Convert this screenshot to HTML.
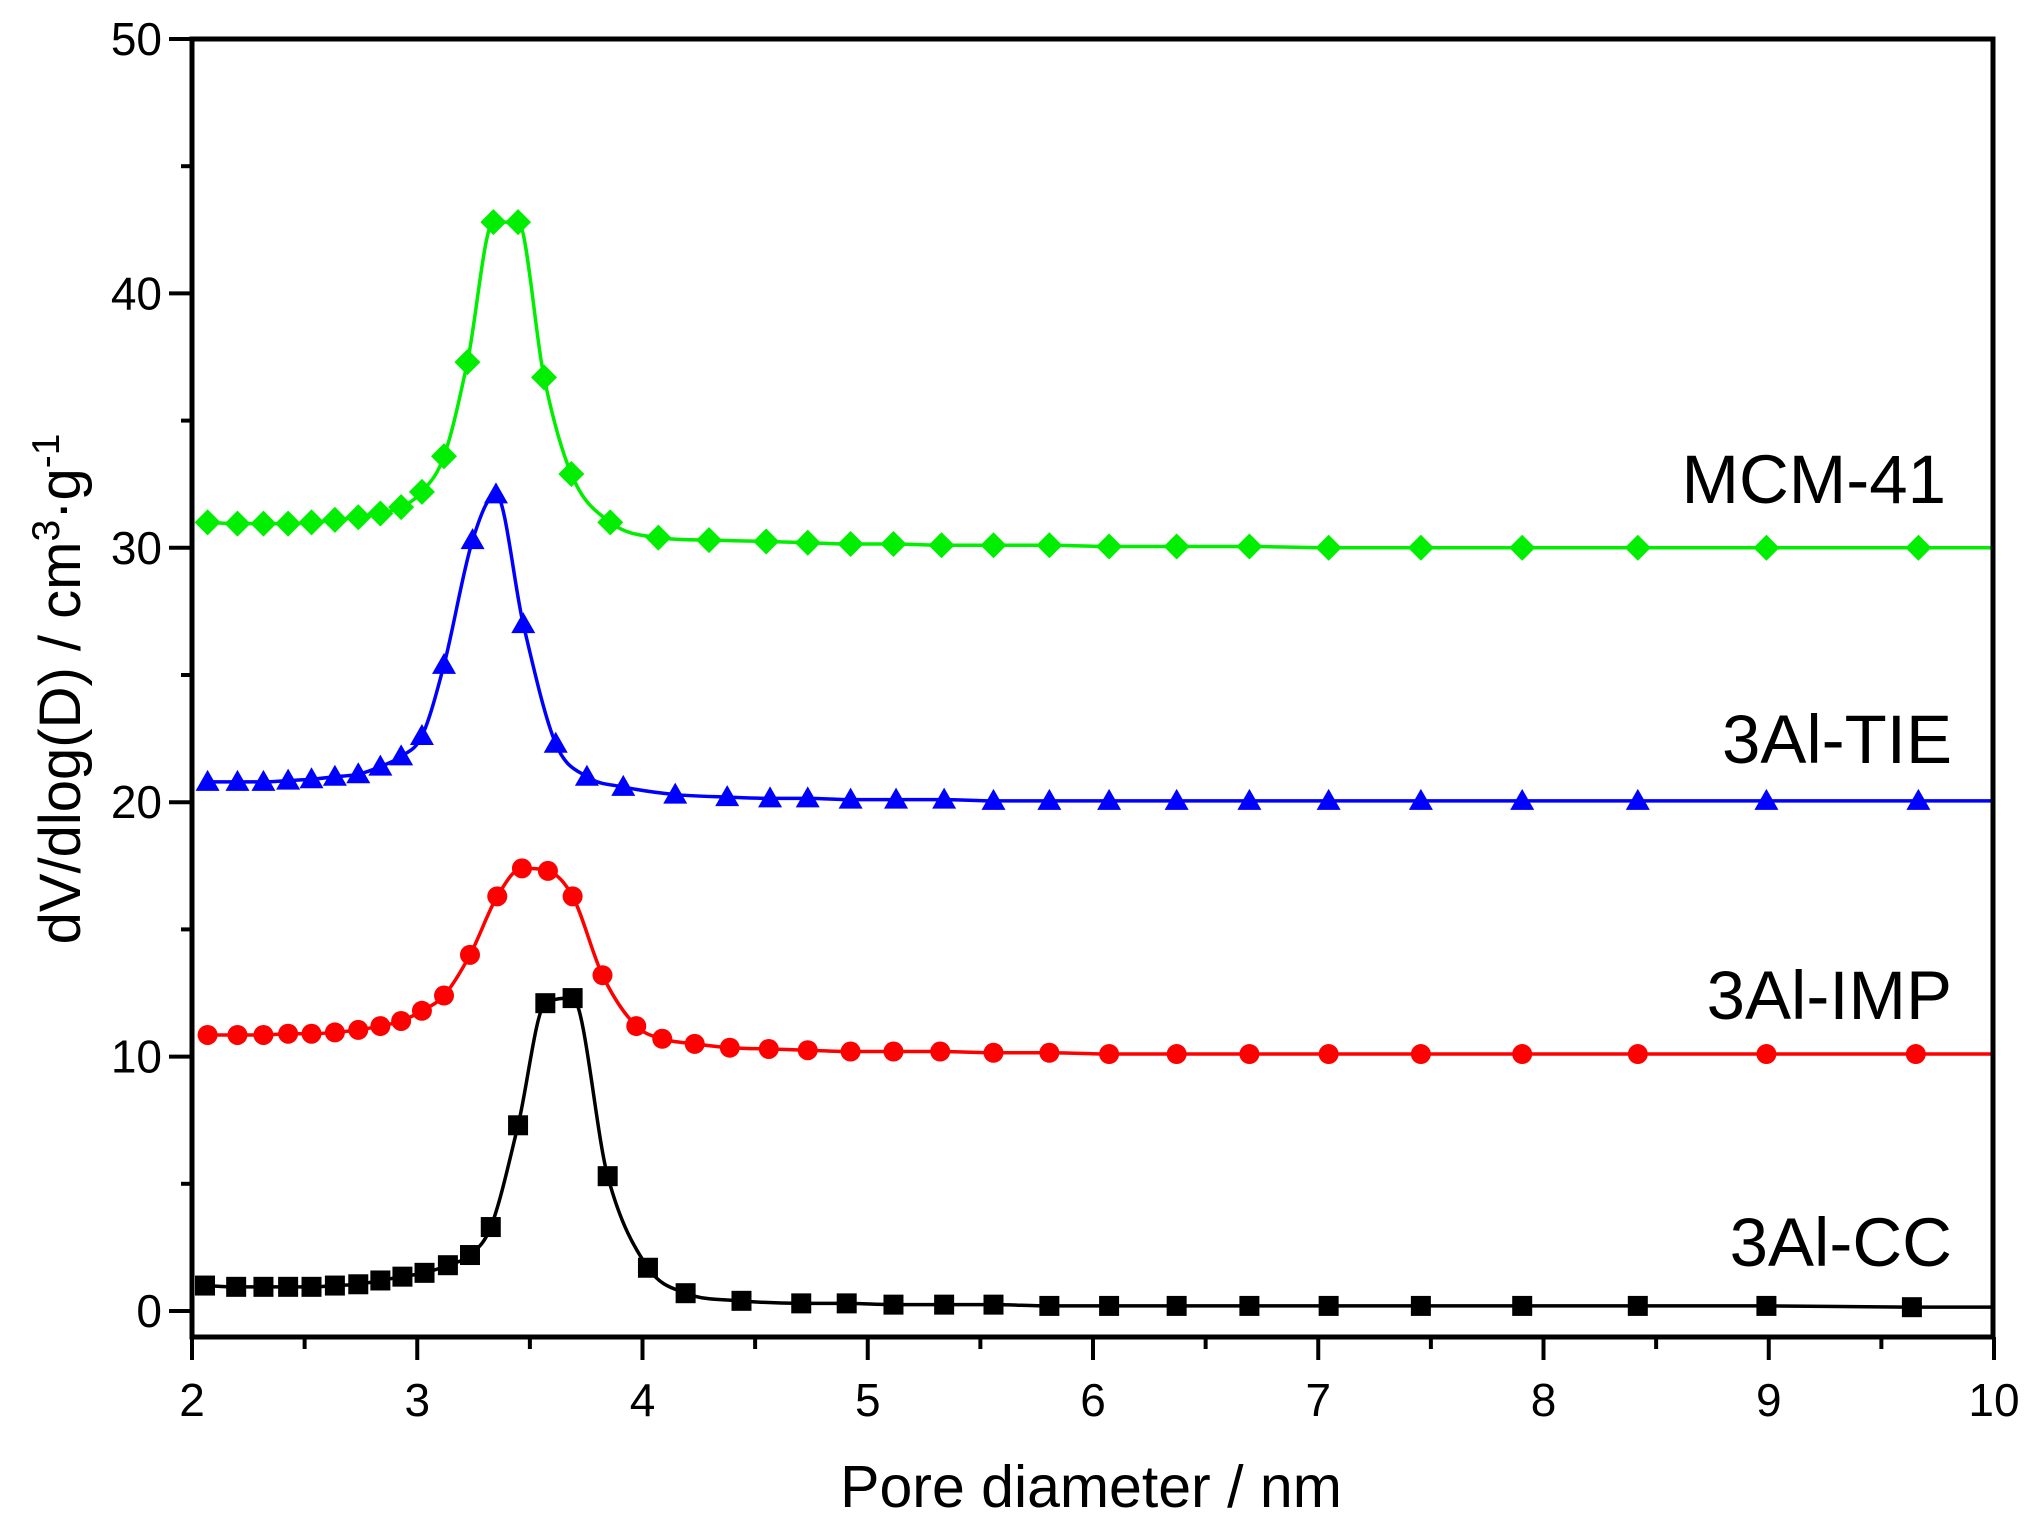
<!DOCTYPE html>
<html><head><meta charset="utf-8"><style>
html,body{margin:0;padding:0;background:#fff}
svg{display:block}
text{font-family:"Liberation Sans",Arial,sans-serif;fill:#000}
</style></head><body>
<svg id="s" width="2037" height="1535" viewBox="0 0 2037 1535" xmlns="http://www.w3.org/2000/svg">
<rect width="2037" height="1535" fill="#fff"/>
<g id="plot"></g>
<rect x="192" y="39" width="1801" height="1298" fill="none" stroke="#000" stroke-width="5"/>
<g id="ticks" stroke="#000" stroke-width="4"></g>
<g id="labels" font-size="46"></g>
<text x="1091" y="1507" font-size="59" text-anchor="middle">Pore diameter / nm</text>
<text transform="translate(80,689) rotate(-90)" font-size="58" text-anchor="middle">dV/dlog(D) / cm<tspan dy="-21" font-size="39">3</tspan><tspan dy="21">·g</tspan><tspan dy="-21" font-size="39">-1</tspan></text>
<text x="1946" y="503" font-size="69" text-anchor="end">MCM-41</text>
<text x="1952" y="763" font-size="69" text-anchor="end">3Al-TIE</text>
<text x="1952" y="1019" font-size="69" text-anchor="end">3Al-IMP</text>
<text x="1952" y="1266" font-size="69" text-anchor="end">3Al-CC</text>
</svg>
<script>
var NS="http://www.w3.org/2000/svg";
function X(v){return 192+(v-2)*225.25;}
function Y(v){return 1311-v*25.44;}
function dx(p){return 2+(p-148)/173.4;}
function el(t,a,par){var e=document.createElementNS(NS,t);for(var k in a)e.setAttribute(k,a[k]);par.appendChild(e);return e;}
var tk=document.getElementById('ticks'),lb=document.getElementById('labels');
for(var i=2;i<=10;i++){var x=X(i);el('line',{x1:x,y1:1337,x2:x,y2:1360},tk);
 var t=el('text',{x:x,y:1416,'text-anchor':'middle'},lb);t.textContent=i;
 if(i<10){el('line',{x1:X(i+0.5),y1:1337,x2:X(i+0.5),y2:1349},tk);}}
for(var v=0;v<=50;v+=10){var y=Y(v);el('line',{x1:169,y1:y,x2:192,y2:y},tk);
 var t=el('text',{x:162,y:y+16,'text-anchor':'end'},lb);t.textContent=v;
 if(v<50)el('line',{x1:181,y1:Y(v+5),x2:192,y2:Y(v+5)},tk);}
var S=[
{c:'#00ee00',m:'d',px:[160,183,203,222,240,258,276,293,309,325,342,360,380,399,419,440,470,507,546,590,622,655,688,725,765,808,854,906,962,1023,1094,1172,1261,1360,1477,1535],
 y:[31.0,30.95,30.95,30.95,31.0,31.1,31.2,31.35,31.6,32.2,33.6,37.3,42.8,42.8,36.7,32.9,31.0,30.4,30.3,30.25,30.2,30.15,30.15,30.1,30.1,30.1,30.05,30.05,30.05,30.0,30.0,30.0,30.0,30.0,30.0,30.0]},
{c:'#0000ff',m:'t',px:[160,183,203,222,240,258,276,293,309,325,342,364,382,403,428,452,480,520,560,593,622,655,690,727,765,808,854,906,962,1023,1094,1172,1261,1360,1477,1535],
 y:[20.8,20.8,20.8,20.85,20.9,21.0,21.1,21.4,21.8,22.6,25.4,30.3,32.1,27.0,22.3,21.0,20.6,20.3,20.2,20.15,20.15,20.1,20.1,20.1,20.05,20.05,20.05,20.05,20.05,20.05,20.05,20.05,20.05,20.05,20.05,20.05]},
{c:'#ff0000',m:'c',px:[160,183,203,222,240,258,276,293,309,325,342,362,383,402,422,441,464,490,510,535,562,592,622,655,688,724,765,808,854,906,962,1023,1094,1172,1261,1360,1475,1535],
 y:[10.85,10.85,10.85,10.9,10.9,10.95,11.05,11.2,11.4,11.8,12.4,14.0,16.3,17.4,17.3,16.3,13.2,11.2,10.7,10.5,10.35,10.3,10.25,10.2,10.2,10.2,10.15,10.15,10.1,10.1,10.1,10.1,10.1,10.1,10.1,10.1,10.1,10.1]},
{c:'#000000',m:'s',px:[158,182,203,222,240,258,276,293,310,327,345,362,378,399,420,441,468,499,528,571,617,652,688,727,765,808,854,906,962,1023,1094,1172,1261,1360,1472,1535],
 y:[1.0,0.95,0.95,0.95,0.95,1.0,1.05,1.2,1.35,1.5,1.8,2.2,3.3,7.3,12.1,12.3,5.3,1.7,0.7,0.4,0.3,0.3,0.25,0.25,0.25,0.2,0.2,0.2,0.2,0.2,0.2,0.2,0.2,0.2,0.15,0.15]}
];
var g=document.getElementById('plot');
S.forEach(function(s){
 var P=s.px.map(function(p,i){return [X(dx(p)),Y(s.y[i])];});
 var n=P.length,dl=[],m=[];
 for(var i=0;i<n-1;i++)dl.push((P[i+1][1]-P[i][1])/(P[i+1][0]-P[i][0]));
 m[0]=dl[0];m[n-1]=dl[n-2];
 for(var i=1;i<n-1;i++){m[i]=(dl[i-1]*dl[i]<=0)?0:(dl[i-1]+dl[i])/2;}
 for(var i=0;i<n-1;i++){if(dl[i]==0){m[i]=0;m[i+1]=0;continue;}var a=m[i]/dl[i],b=m[i+1]/dl[i],h=a*a+b*b;if(h>9){var t=3/Math.sqrt(h);m[i]=t*a*dl[i];m[i+1]=t*b*dl[i];}}
 var d='M'+P[0][0]+','+P[0][1];
 for(var i=0;i<n-1;i++){var h=(P[i+1][0]-P[i][0])/3;
  d+=' C'+(P[i][0]+h)+','+(P[i][1]+m[i]*h)+' '+(P[i+1][0]-h)+','+(P[i+1][1]-m[i+1]*h)+' '+P[i+1][0]+','+P[i+1][1];}
 el('path',{d:d,fill:'none',stroke:s.c,'stroke-width':3.5},g);
 P.forEach(function(p,i){if(i==P.length-1)return;var x=p[0],y=p[1];
  if(s.m=='d')el('polygon',{points:(x)+','+(y-13)+' '+(x+13)+','+y+' '+x+','+(y+13)+' '+(x-13)+','+y,fill:s.c},g);
  else if(s.m=='t')el('polygon',{points:x+','+(y-12)+' '+(x+12)+','+(y+9)+' '+(x-12)+','+(y+9),fill:s.c},g);
  else if(s.m=='c')el('circle',{cx:x,cy:y,r:10,fill:s.c},g);
  else el('rect',{x:x-10,y:y-10,width:20,height:20,fill:s.c},g);});
});
</script>
</body></html>
